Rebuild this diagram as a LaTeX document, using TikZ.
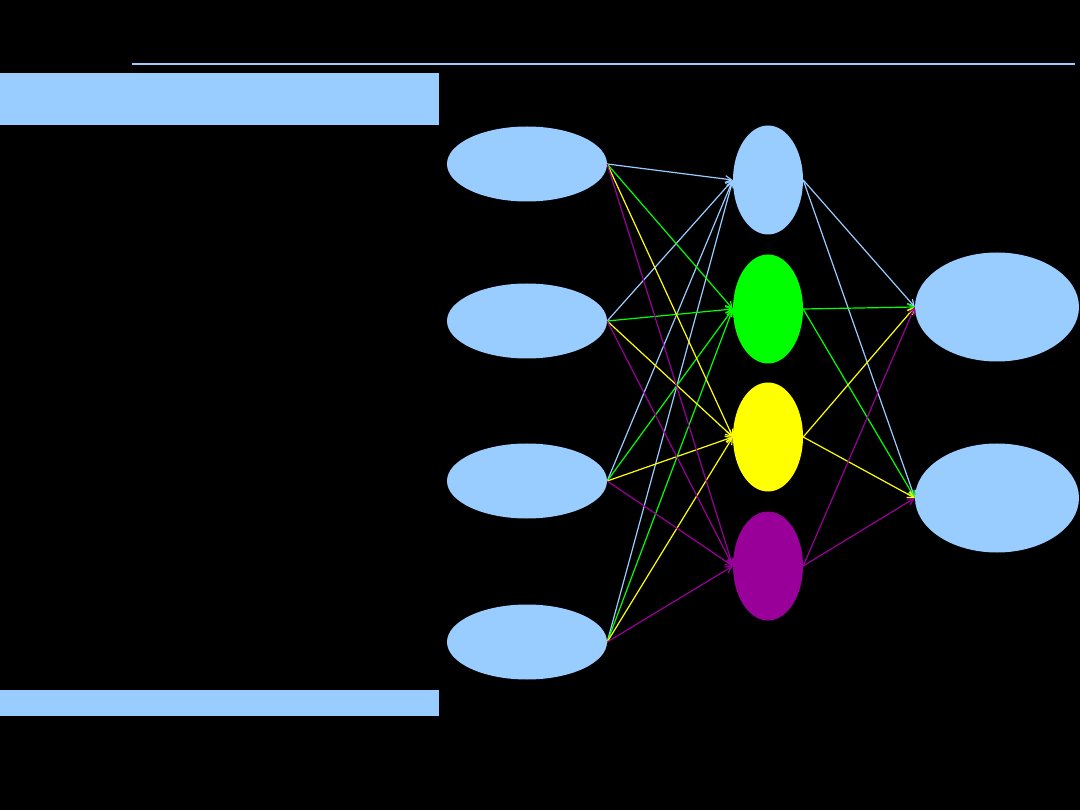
\documentclass[tikz,border=0pt]{standalone}
\usepackage{tikz}
\usetikzlibrary{arrows.meta, shapes.geometric}
\definecolor{sky}{RGB}{153,204,255}
\definecolor{lime}{RGB}{0,255,0}
\definecolor{lemon}{RGB}{255,255,0}
\definecolor{plum}{RGB}{153,0,153}
\tikzset{
  unit/.style={ellipse,draw=none,inner sep=0pt},
  inunit/.style={unit,fill=sky,minimum width=160pt,minimum height=75pt},
  hidunit/.style={unit,minimum width=70pt,minimum height=109pt},
  outunit/.style={unit,fill=sky,minimum width=164pt,minimum height=109pt},
  wire/.style={-{Straight Barb[length=2.2mm,width=2.4mm]},line width=1.2pt},
}

\begin{document}
\begin{tikzpicture}[x=1pt,y=-1pt]
  \fill[black] (0,0) rectangle (1080,810);
  \useasboundingbox (0,0) rectangle (1080,810);
  % title bar and rules
  \draw[sky,line width=1.3pt] (132,64) -- (1075,64);
  \fill[sky] (0,73) rectangle (439,125);
  \fill[sky] (0,690) rectangle (439,716);
  % input layer
  \node[inunit] (in1) at (527,164) {};
  \node[inunit] (in2) at (527,321) {};
  \node[inunit] (in3) at (527,481) {};
  \node[inunit] (in4) at (527,642) {};
  % hidden layer
  \node[hidunit,fill=sky]   (h1) at (768,180) {};
  \node[hidunit,fill=lime]  (h2) at (768,309) {};
  \node[hidunit,fill=lemon] (h3) at (768,437) {};
  \node[hidunit,fill=plum]  (h4) at (768,566) {};
  % output layer
  \node[outunit] (out1) at (997,307) {};
  \node[outunit] (out2) at (997,498) {};
  % connections
  \foreach \h/\c in {1/sky,2/lime,3/lemon,4/plum}{
    \foreach \i in {1,2,3,4}
      \draw[wire,\c] (in\i.east) -- (h\h.west);
    \foreach \o in {1,2}
      \draw[wire,\c] (h\h.east) -- (out\o.west);
  }
\end{tikzpicture}
\end{document}
